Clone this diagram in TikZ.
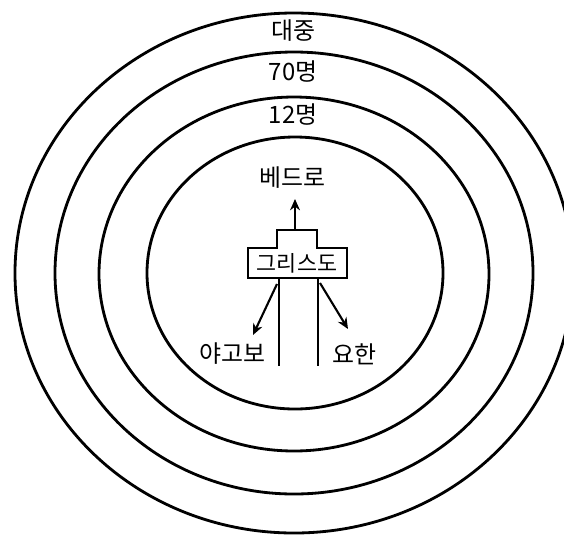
\documentclass[tikz,border=0pt]{standalone}
\usepackage{fontspec}
\setmainfont{Noto Sans CJK KR}
\usetikzlibrary{arrows.meta}

\begin{document}
\begin{tikzpicture}[x=0.025cm,y=-0.025cm,>={Stealth[length=8pt,width=7pt]},
  ring/.style={line width=2pt},
  lbl/.style={font=\fontsize{17}{19}\selectfont,inner sep=0pt},
  every path/.style={line join=miter}]
\useasboundingbox (0,0) rectangle (564,535);
% rings
\draw[ring] (294,273) ellipse [x radius=279,y radius=260];
\draw[ring] (294,273) ellipse [x radius=239,y radius=221];
\draw[ring] (294,274) ellipse [x radius=195,y radius=177];
\draw[ring] (295,273) ellipse [x radius=148,y radius=136];
\node[lbl] (crowd) at (293,31) {대중};
\node[lbl] (seventy) at (293,72) {70명};
\node[lbl] (twelve) at (293,115) {12명};
% centre figure
\draw[line width=1.5pt] (248,278) -- (248,248) -- (277,248) -- (277,230) -- (317,230)
  -- (317,248) -- (347,248) -- (347,278) -- cycle;
\draw[line width=1.5pt] (279,278) -- (279,366) (318,278) -- (318,366);
\node[lbl,font=\fontsize{15.5}{17}\selectfont] (christ) at (297,263) {그리스도};
\node[lbl] (peter) at (292,178) {베드로};
\node[lbl] (james) at (232,354) {야고보};
\node[lbl] (john) at (354,354) {요한};
\coordinate (top) at (295,230);
\coordinate (jl) at (277,284);
\coordinate (jr) at (320,283);
\coordinate (ptip) at (295,199);
\coordinate (jtip) at (253,335);
\coordinate (ntip) at (348,329);
\draw[->,line width=1.5pt] (top) -- (ptip);
\draw[->,line width=1.5pt] (jl) -- (jtip);
\draw[->,line width=1.5pt] (jr) -- (ntip);
\end{tikzpicture}
\end{document}
